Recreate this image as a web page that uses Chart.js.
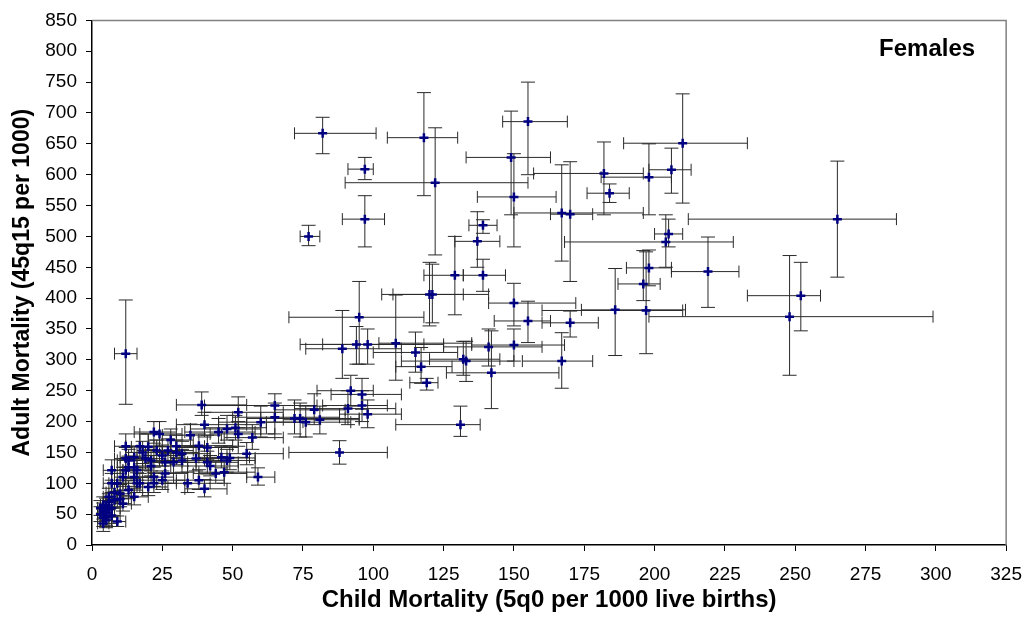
<!DOCTYPE html>
<html>
<head>
<meta charset="utf-8">
<script src="https://cdn.jsdelivr.net/npm/chart.js@4.4.1/dist/chart.umd.min.js"></script>
<style>
  html, body { margin: 0; padding: 0; background: #ffffff; }
  #wrap { position: relative; width: 1034px; height: 617px; }
  canvas { display: block; }
</style>
</head>
<body>
<div id="wrap"><canvas id="c" width="1034" height="617"></canvas></div>
<script>
// ---- Data ----
const panelLabel = "Females";
const xAxisTitle = "Child Mortality (5q0 per 1000 live births)";
const yAxisTitle = "Adult Mortality (45q15 per 1000)";
const xTicks = [0, 25, 50, 75, 100, 125, 150, 175, 200, 225, 250, 275, 300, 325];
const yTicks = [0, 50, 100, 150, 200, 250, 300, 350, 400, 450, 500, 550, 600, 650, 700, 750, 800, 850];

const childMort = [12,82,77,97,97,118,122,155,149,150,167,170,182,184,198,206,210,265,205,204,
  219,198,196,186,197,248,252,139,137,129,139,120,121,150,155,170,95,94,98,89,
  108,115,117,119,141,150,132,133,142,167,131,92,96,96,91,98,88,79,81,65,
  65,72,74,76,60,52,51,52,57,59,39,40,45,48,22,24,17,20,12,23,
  27,30,32,38,41,37,41,46,48,49,44,47,40,34,38,26,20,22,15,16,
  29,21,19,26,32,13,13,7,22,25,15,17,13,15,7,9,12,15,12,16,
  10,8,10,11,9,4,5,4,3,5,6,4,6,5,7,3,6,8,5,7,
  4,30,35,28,18,11,42,55,21,25];
const adultMort = [310,667,500,609,528,660,587,686,628,564,538,536,602,570,596,608,651,528,504,491,
  443,449,423,381,380,370,404,518,492,437,437,406,406,392,363,360,369,325,325,318,
  327,312,289,263,321,324,301,298,279,298,195,250,244,226,221,212,150,219,203,226,
  207,205,205,199,199,215,190,180,174,110,227,195,183,188,183,180,160,159,160,153,
  153,150,148,161,158,140,134,142,137,141,116,118,91,100,105,116,94,100,126,100,
  134,137,140,134,137,137,126,121,110,105,110,100,89,78,100,100,140,142,121,121,
  83,73,75,67,38,35,62,55,50,45,58,65,70,52,48,60,78,85,40,60,
  44,160,178,170,150,110,128,148,128,145];
const childLow = [8,72,74,91,89,105,90,146,133,137,150,163,157,176,181,198,189,212,200,168,
  206,190,187,174,160,198,233,134,129,118,132,103,107,141,143,160,70,74,82,76,
  102,100,108,113,125,135,120,110,126,153,108,80,85,82,72,88,70,65,68,40,
  50,55,60,62,45,40,40,42,47,55,30,30,33,35,15,17,12,14,8,16,
  20,22,24,28,30,28,32,38,40,42,36,38,33,26,30,20,15,16,10,11,
  22,15,13,19,24,9,9,4,16,18,10,12,9,10,4,6,8,10,8,11,
  7,5,7,8,7,2,3,2,2,3,4,3,4,3,5,2,4,5,3,5,
  2,22,25,20,12,8,34,45,15,18];
const childHigh = [16,101,81,100,104,130,155,169,163,165,196,178,196,191,206,213,233,286,210,228,
  230,206,202,211,210,299,259,144,145,132,147,132,141,172,163,180,118,118,125,110,
  135,130,128,123,160,168,145,150,166,178,138,100,110,105,108,110,105,90,95,80,
  88,90,95,92,75,68,62,65,68,65,55,55,58,60,30,32,25,28,17,31,
  36,38,42,50,52,48,52,56,58,58,55,58,48,42,47,34,27,30,21,22,
  37,28,26,34,41,18,18,11,29,33,21,23,18,20,10,12,16,20,16,21,
  14,11,13,14,12,6,8,6,5,7,8,6,9,7,10,5,9,11,7,10,
  6,40,46,36,25,15,52,68,28,33];
const adultLow = [228,634,485,592,483,566,470,600,535,483,460,427,535,555,535,570,554,434,483,450,
  385,420,396,307,310,275,347,505,450,373,411,355,360,355,328,337,293,293,293,270,
  267,280,262,251,290,298,275,265,221,254,176,225,220,200,195,190,131,195,180,205,
  180,180,175,175,175,190,170,160,155,97,210,175,165,170,165,160,140,140,140,135,
  135,130,128,140,138,120,115,125,118,122,100,100,78,85,90,100,80,85,108,85,
  117,120,123,116,118,120,108,105,95,90,95,85,75,65,85,85,122,125,105,105,
  68,60,62,55,30,22,48,42,38,32,45,52,57,40,35,48,65,70,28,46,
  30,142,160,152,132,95,112,130,112,128];
const adultHigh = [397,693,518,628,566,733,676,750,703,634,616,621,653,585,650,643,731,622,528,535,
  499,478,477,448,475,469,458,527,540,500,463,458,455,424,395,379,427,354,350,380,
  405,345,320,270,350,350,330,330,347,344,225,275,270,250,250,235,169,245,225,245,
  230,235,230,225,225,240,210,200,195,125,248,215,205,210,200,200,180,180,180,170,
  172,170,168,180,178,160,152,160,155,160,135,137,106,118,122,133,110,117,144,117,
  152,155,158,152,155,155,144,138,126,120,126,116,104,92,116,116,158,160,138,138,
  98,87,88,80,47,48,76,68,62,58,72,78,83,65,60,72,92,100,52,74,
  58,178,196,188,168,126,145,166,145,162];

// ---- Plugins ----
const errorBars = {
  id: 'errorBars',
  beforeDatasetsDraw(chart) {
    const { ctx, scales: { x, y } } = chart;
    ctx.save();
    ctx.strokeStyle = '#2a2a2a';
    ctx.lineWidth = 1;
    const capH = 6, capV = 7;
    for (let i = 0; i < childMort.length; i++) {
      const px = x.getPixelForValue(childMort[i]);
      const py = y.getPixelForValue(adultMort[i]);
      const x1 = x.getPixelForValue(childLow[i]);
      const x2 = x.getPixelForValue(childHigh[i]);
      const y1 = y.getPixelForValue(adultLow[i]);
      const y2 = y.getPixelForValue(adultHigh[i]);
      ctx.beginPath();
      ctx.moveTo(x1, py); ctx.lineTo(x2, py);
      ctx.moveTo(x1, py - capH); ctx.lineTo(x1, py + capH);
      ctx.moveTo(x2, py - capH); ctx.lineTo(x2, py + capH);
      ctx.moveTo(px, y1); ctx.lineTo(px, y2);
      ctx.moveTo(px - capV, y1); ctx.lineTo(px + capV, y1);
      ctx.moveTo(px - capV, y2); ctx.lineTo(px + capV, y2);
      ctx.stroke();
    }
    ctx.restore();
  }
};

const frameAndLabel = {
  id: 'frameAndLabel',
  afterDraw(chart) {
    const { ctx, chartArea: a } = chart;
    ctx.save();
    ctx.strokeStyle = '#808080';
    ctx.lineWidth = 1.5;
    ctx.beginPath();
    ctx.moveTo(a.left, a.top);
    ctx.lineTo(a.right, a.top);
    ctx.lineTo(a.right, a.bottom);
    ctx.stroke();
    ctx.fillStyle = '#000000';
    ctx.font = 'bold 24px "Liberation Sans", Arial, sans-serif';
    ctx.textAlign = 'right';
    ctx.textBaseline = 'middle';
    ctx.fillText(panelLabel, a.right - 31, a.top + 29);
    ctx.restore();
  }
};

const points = childMort.map((v, i) => ({ x: v, y: adultMort[i] }));
const tickFont = { family: '"Liberation Sans", Arial, sans-serif', size: 19 };

new Chart(document.getElementById('c'), {
  type: 'scatter',
  data: {
    datasets: [{
      data: points,
      pointStyle: 'cross',
      pointRadius: 4.5,
      pointBorderWidth: 2.5,
      borderColor: '#000080',
      backgroundColor: '#000080',
      pointHoverRadius: 4.5
    }]
  },
  options: {
    responsive: false,
    animation: false,
    events: [],
    layout: { padding: { top: 18, right: 20, left: 0, bottom: 0 } },
    plugins: { legend: { display: false }, tooltip: { enabled: false } },
    scales: {
      x: {
        type: 'linear',
        min: 0, max: 325,
        afterFit(s) { s.height = 72; },
        afterBuildTicks(s) { s.ticks = xTicks.map(v => ({ value: v })); },
        ticks: { color: '#000', font: tickFont, padding: 12, maxRotation: 0, autoSkip: false },
        grid: { drawOnChartArea: false, drawTicks: true, tickLength: 6, color: '#000' },
        border: { color: '#000', width: 1.5 },
        title: { display: true, text: xAxisTitle, color: '#000', font: { family: '"Liberation Sans", Arial, sans-serif', size: 24, weight: 'bold' }, padding: { top: 0, bottom: 2 } }
      },
      y: {
        type: 'linear',
        min: 0, max: 850,
        afterFit(s) { s.width = 92; },
        afterBuildTicks(s) { s.ticks = yTicks.map(v => ({ value: v })); },
        ticks: { color: '#000', font: tickFont, padding: 9, autoSkip: false },
        grid: { drawOnChartArea: false, drawTicks: true, tickLength: 6, color: '#000' },
        border: { color: '#000', width: 1.5 },
        title: { display: true, text: yAxisTitle, color: '#000', font: { family: '"Liberation Sans", Arial, sans-serif', size: 23, weight: 'bold' }, padding: { top: 9, bottom: 0 } }
      }
    }
  },
  plugins: [errorBars, frameAndLabel]
});
</script>
</body>
</html>
